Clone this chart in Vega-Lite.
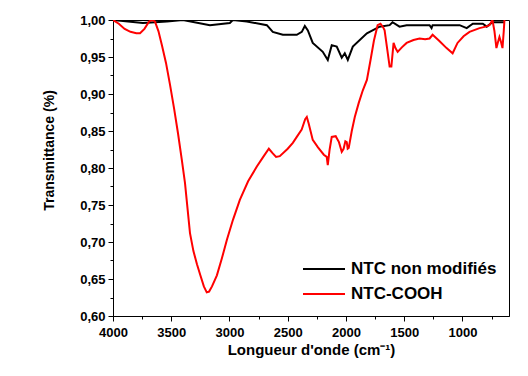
{
  "$schema": "https://vega.github.io/schema/vega-lite/v6.json",
  "width": 396,
  "height": 296,
  "autosize": {"type": "none"},
  "padding": {"left": 113, "top": 20, "right": 19, "bottom": 60},
  "background": "white",
  "config": {
    "view": {"stroke": "black", "strokeWidth": 1},
    "font": "Liberation Sans"
  },
  "datasets": {
    "spec": [
      {"w": 4000, "t": 1.000, "s": "NTC non modifiés"},
      {"w": 3743, "t": 0.996, "s": "NTC non modifiés"},
      {"w": 3537, "t": 0.998, "s": "NTC non modifiés"},
      {"w": 3400, "t": 1.000, "s": "NTC non modifiés"},
      {"w": 3168, "t": 0.993, "s": "NTC non modifiés"},
      {"w": 2997, "t": 0.996, "s": "NTC non modifiés"},
      {"w": 2971, "t": 1.000, "s": "NTC non modifiés"},
      {"w": 2851, "t": 0.998, "s": "NTC non modifiés"},
      {"w": 2679, "t": 0.993, "s": "NTC non modifiés"},
      {"w": 2628, "t": 0.984, "s": "NTC non modifiés"},
      {"w": 2542, "t": 0.980, "s": "NTC non modifiés"},
      {"w": 2422, "t": 0.980, "s": "NTC non modifiés"},
      {"w": 2379, "t": 0.984, "s": "NTC non modifiés"},
      {"w": 2353, "t": 0.992, "s": "NTC non modifiés"},
      {"w": 2327, "t": 0.986, "s": "NTC non modifiés"},
      {"w": 2285, "t": 0.969, "s": "NTC non modifiés"},
      {"w": 2199, "t": 0.957, "s": "NTC non modifiés"},
      {"w": 2156, "t": 0.946, "s": "NTC non modifiés"},
      {"w": 2122, "t": 0.966, "s": "NTC non modifiés"},
      {"w": 2079, "t": 0.964, "s": "NTC non modifiés"},
      {"w": 2036, "t": 0.949, "s": "NTC non modifiés"},
      {"w": 2010, "t": 0.955, "s": "NTC non modifiés"},
      {"w": 1984, "t": 0.946, "s": "NTC non modifiés"},
      {"w": 1941, "t": 0.964, "s": "NTC non modifiés"},
      {"w": 1820, "t": 0.982, "s": "NTC non modifiés"},
      {"w": 1711, "t": 0.991, "s": "NTC non modifiés"},
      {"w": 1625, "t": 0.993, "s": "NTC non modifiés"},
      {"w": 1600, "t": 0.997, "s": "NTC non modifiés"},
      {"w": 1540, "t": 0.991, "s": "NTC non modifiés"},
      {"w": 1479, "t": 0.993, "s": "NTC non modifiés"},
      {"w": 1282, "t": 0.993, "s": "NTC non modifiés"},
      {"w": 1265, "t": 0.989, "s": "NTC non modifiés"},
      {"w": 1256, "t": 0.993, "s": "NTC non modifiés"},
      {"w": 1024, "t": 0.993, "s": "NTC non modifiés"},
      {"w": 963, "t": 0.989, "s": "NTC non modifiés"},
      {"w": 911, "t": 0.995, "s": "NTC non modifiés"},
      {"w": 825, "t": 0.995, "s": "NTC non modifiés"},
      {"w": 791, "t": 0.991, "s": "NTC non modifiés"},
      {"w": 742, "t": 0.997, "s": "NTC non modifiés"},
      {"w": 639, "t": 0.997, "s": "NTC non modifiés"},
      {"w": 4000, "t": 1.000, "s": "NTC-COOH"},
      {"w": 3950, "t": 0.995, "s": "NTC-COOH"},
      {"w": 3900, "t": 0.988, "s": "NTC-COOH"},
      {"w": 3850, "t": 0.984, "s": "NTC-COOH"},
      {"w": 3800, "t": 0.982, "s": "NTC-COOH"},
      {"w": 3768, "t": 0.982, "s": "NTC-COOH"},
      {"w": 3730, "t": 0.988, "s": "NTC-COOH"},
      {"w": 3690, "t": 0.998, "s": "NTC-COOH"},
      {"w": 3665, "t": 1.000, "s": "NTC-COOH"},
      {"w": 3640, "t": 0.998, "s": "NTC-COOH"},
      {"w": 3610, "t": 0.985, "s": "NTC-COOH"},
      {"w": 3580, "t": 0.966, "s": "NTC-COOH"},
      {"w": 3545, "t": 0.942, "s": "NTC-COOH"},
      {"w": 3511, "t": 0.913, "s": "NTC-COOH"},
      {"w": 3475, "t": 0.880, "s": "NTC-COOH"},
      {"w": 3442, "t": 0.847, "s": "NTC-COOH"},
      {"w": 3410, "t": 0.812, "s": "NTC-COOH"},
      {"w": 3382, "t": 0.780, "s": "NTC-COOH"},
      {"w": 3360, "t": 0.745, "s": "NTC-COOH"},
      {"w": 3339, "t": 0.712, "s": "NTC-COOH"},
      {"w": 3310, "t": 0.688, "s": "NTC-COOH"},
      {"w": 3279, "t": 0.670, "s": "NTC-COOH"},
      {"w": 3250, "t": 0.655, "s": "NTC-COOH"},
      {"w": 3220, "t": 0.640, "s": "NTC-COOH"},
      {"w": 3195, "t": 0.632, "s": "NTC-COOH"},
      {"w": 3175, "t": 0.633, "s": "NTC-COOH"},
      {"w": 3150, "t": 0.640, "s": "NTC-COOH"},
      {"w": 3108, "t": 0.655, "s": "NTC-COOH"},
      {"w": 3065, "t": 0.678, "s": "NTC-COOH"},
      {"w": 3022, "t": 0.703, "s": "NTC-COOH"},
      {"w": 2970, "t": 0.730, "s": "NTC-COOH"},
      {"w": 2911, "t": 0.757, "s": "NTC-COOH"},
      {"w": 2840, "t": 0.782, "s": "NTC-COOH"},
      {"w": 2765, "t": 0.802, "s": "NTC-COOH"},
      {"w": 2710, "t": 0.815, "s": "NTC-COOH"},
      {"w": 2662, "t": 0.826, "s": "NTC-COOH"},
      {"w": 2630, "t": 0.820, "s": "NTC-COOH"},
      {"w": 2600, "t": 0.815, "s": "NTC-COOH"},
      {"w": 2568, "t": 0.816, "s": "NTC-COOH"},
      {"w": 2500, "t": 0.826, "s": "NTC-COOH"},
      {"w": 2456, "t": 0.834, "s": "NTC-COOH"},
      {"w": 2422, "t": 0.842, "s": "NTC-COOH"},
      {"w": 2380, "t": 0.852, "s": "NTC-COOH"},
      {"w": 2350, "t": 0.866, "s": "NTC-COOH"},
      {"w": 2336, "t": 0.869, "s": "NTC-COOH"},
      {"w": 2320, "t": 0.860, "s": "NTC-COOH"},
      {"w": 2285, "t": 0.838, "s": "NTC-COOH"},
      {"w": 2240, "t": 0.828, "s": "NTC-COOH"},
      {"w": 2190, "t": 0.818, "s": "NTC-COOH"},
      {"w": 2165, "t": 0.815, "s": "NTC-COOH"},
      {"w": 2156, "t": 0.804, "s": "NTC-COOH"},
      {"w": 2140, "t": 0.825, "s": "NTC-COOH"},
      {"w": 2122, "t": 0.842, "s": "NTC-COOH"},
      {"w": 2088, "t": 0.843, "s": "NTC-COOH"},
      {"w": 2060, "t": 0.835, "s": "NTC-COOH"},
      {"w": 2036, "t": 0.822, "s": "NTC-COOH"},
      {"w": 2020, "t": 0.826, "s": "NTC-COOH"},
      {"w": 2005, "t": 0.836, "s": "NTC-COOH"},
      {"w": 1993, "t": 0.835, "s": "NTC-COOH"},
      {"w": 1985, "t": 0.826, "s": "NTC-COOH"},
      {"w": 1976, "t": 0.827, "s": "NTC-COOH"},
      {"w": 1950, "t": 0.850, "s": "NTC-COOH"},
      {"w": 1924, "t": 0.869, "s": "NTC-COOH"},
      {"w": 1890, "t": 0.888, "s": "NTC-COOH"},
      {"w": 1855, "t": 0.905, "s": "NTC-COOH"},
      {"w": 1820, "t": 0.919, "s": "NTC-COOH"},
      {"w": 1790, "t": 0.945, "s": "NTC-COOH"},
      {"w": 1760, "t": 0.972, "s": "NTC-COOH"},
      {"w": 1728, "t": 0.993, "s": "NTC-COOH"},
      {"w": 1703, "t": 0.995, "s": "NTC-COOH"},
      {"w": 1680, "t": 0.990, "s": "NTC-COOH"},
      {"w": 1668, "t": 0.986, "s": "NTC-COOH"},
      {"w": 1645, "t": 0.960, "s": "NTC-COOH"},
      {"w": 1625, "t": 0.937, "s": "NTC-COOH"},
      {"w": 1610, "t": 0.937, "s": "NTC-COOH"},
      {"w": 1591, "t": 0.969, "s": "NTC-COOH"},
      {"w": 1575, "t": 0.962, "s": "NTC-COOH"},
      {"w": 1556, "t": 0.957, "s": "NTC-COOH"},
      {"w": 1520, "t": 0.963, "s": "NTC-COOH"},
      {"w": 1479, "t": 0.969, "s": "NTC-COOH"},
      {"w": 1420, "t": 0.973, "s": "NTC-COOH"},
      {"w": 1368, "t": 0.975, "s": "NTC-COOH"},
      {"w": 1320, "t": 0.974, "s": "NTC-COOH"},
      {"w": 1282, "t": 0.975, "s": "NTC-COOH"},
      {"w": 1256, "t": 0.980, "s": "NTC-COOH"},
      {"w": 1200, "t": 0.972, "s": "NTC-COOH"},
      {"w": 1136, "t": 0.962, "s": "NTC-COOH"},
      {"w": 1084, "t": 0.955, "s": "NTC-COOH"},
      {"w": 1042, "t": 0.969, "s": "NTC-COOH"},
      {"w": 990, "t": 0.978, "s": "NTC-COOH"},
      {"w": 939, "t": 0.984, "s": "NTC-COOH"},
      {"w": 853, "t": 0.989, "s": "NTC-COOH"},
      {"w": 800, "t": 0.991, "s": "NTC-COOH"},
      {"w": 768, "t": 0.993, "s": "NTC-COOH"},
      {"w": 742, "t": 1.000, "s": "NTC-COOH"},
      {"w": 725, "t": 0.985, "s": "NTC-COOH"},
      {"w": 708, "t": 0.962, "s": "NTC-COOH"},
      {"w": 695, "t": 0.970, "s": "NTC-COOH"},
      {"w": 682, "t": 0.977, "s": "NTC-COOH"},
      {"w": 668, "t": 0.970, "s": "NTC-COOH"},
      {"w": 656, "t": 0.962, "s": "NTC-COOH"},
      {"w": 645, "t": 0.985, "s": "NTC-COOH"},
      {"w": 639, "t": 1.000, "s": "NTC-COOH"}
    ]
  },
  "data": {"name": "spec"},
  "mark": {"type": "line", "strokeWidth": 2, "clip": true},
  "encoding": {
    "x": {
      "field": "w",
      "type": "quantitative",
      "scale": {"domain": [4000, 600], "nice": false, "zero": false},
      "axis": {
        "title": "Longueur d'onde (cm⁻¹)",
        "values": [4000, 3750, 3500, 3250, 3000, 2750, 2500, 2250, 2000, 1750, 1500, 1250, 1000, 750],
        "labelExpr": "datum.value % 500 === 0 ? format(datum.value, 'd') : ''",
        "tickSize": {"expr": "datum.value % 500 === 0 ? 5 : 3"},
        "grid": false,
        "domainColor": "black",
        "tickColor": "black",
        "labelColor": "black",
        "labelFont": "Liberation Sans",
        "labelFontSize": 13,
        "labelFontWeight": "bold",
        "labelPadding": 5,
        "labelOverlap": false,
        "labelFlush": false,
        "titleFont": "Liberation Sans",
        "titleFontSize": 15,
        "titleFontWeight": "bold",
        "titleColor": "black",
        "titlePadding": 3
      }
    },
    "y": {
      "field": "t",
      "type": "quantitative",
      "scale": {"domain": [0.6, 1.0], "nice": false, "zero": false},
      "axis": {
        "title": "Transmittance (%)",
        "values": [0.6, 0.625, 0.65, 0.675, 0.7, 0.725, 0.75, 0.775, 0.8, 0.825, 0.85, 0.875, 0.9, 0.925, 0.95, 0.975, 1.0],
        "labelExpr": "round(datum.value * 1000) % 50 === 0 ? replace(format(datum.value, '.2f'), '.', ',') : ''",
        "tickSize": {"expr": "round(datum.value * 1000) % 50 === 0 ? 5 : 3"},
        "grid": false,
        "domainColor": "black",
        "tickColor": "black",
        "labelColor": "black",
        "labelFont": "Liberation Sans",
        "labelFontSize": 13,
        "labelFontWeight": "bold",
        "labelPadding": 3,
        "labelOverlap": false,
        "labelFlush": false,
        "titleFont": "Liberation Sans",
        "titleFontSize": 14,
        "titleFontWeight": "bold",
        "titleColor": "black",
        "titlePadding": 23,
        "titleY": 130
      }
    },
    "color": {
      "field": "s",
      "type": "nominal",
      "scale": {"domain": ["NTC non modifiés", "NTC-COOH"], "range": ["black", "#ff0000"]},
      "legend": {
        "title": null,
        "orient": "bottom-right",
        "offset": 12,
        "symbolType": "stroke",
        "symbolSize": 1764,
        "symbolStrokeWidth": 2,
        "labelFont": "Liberation Sans",
        "labelFontSize": 17,
        "labelFontWeight": "bold",
        "labelColor": "black",
        "labelLimit": 300,
        "labelOffset": 5,
        "clipHeight": 20,
        "rowPadding": 5
      }
    }
  }
}
